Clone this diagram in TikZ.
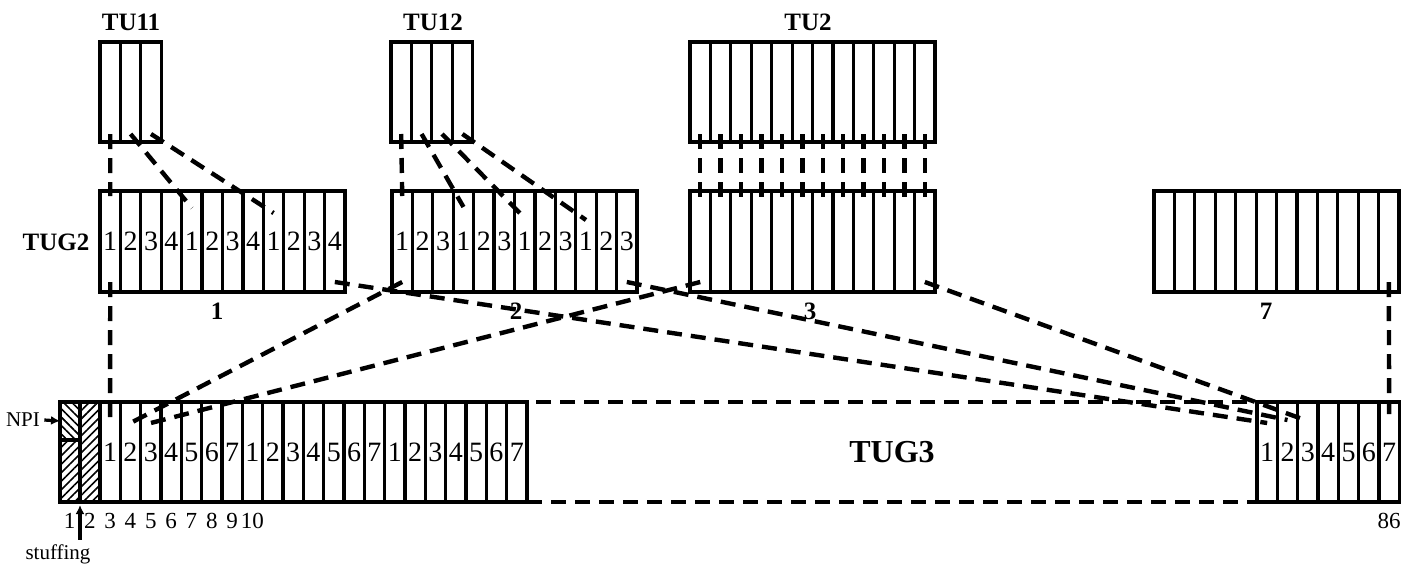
\documentclass[tikz,border=0pt]{standalone}
\usepackage{fontspec}
\setmainfont{Liberation Serif}
\usetikzlibrary{arrows.meta,calc,patterns.meta}

\begin{document}
\begin{tikzpicture}[
  x=0.5pt, y=-0.5pt,
  >={Latex[length=4.5pt,width=4.5pt]},
  cell/.style={draw,line width=1.6pt,inner sep=0pt,outer sep=0pt,minimum width=10.2pt,minimum height=50pt,font=\fontsize{14}{16}\selectfont},
  slot/.style={cell,minimum width=10.165pt},
  hatch/.style={draw,line width=1.6pt,inner sep=0pt,outer sep=0pt,minimum width=10pt},
  title/.style={font=\fontsize{12.5}{14}\selectfont\bfseries,inner sep=1pt},
  small/.style={font=\fontsize{10.5}{12}\selectfont,inner sep=2pt},
  idx/.style={font=\fontsize{11.5}{13}\selectfont,inner sep=1pt},
  link/.style={line width=2.2pt,dash pattern=on 7.5pt off 4.5pt},
  arr/.style={->,line width=1.6pt},
]
\useasboundingbox (0,0) rectangle (1418,568);

% row 1: TU11, TU12, TU2
\foreach \i in {1,2,3} \node[cell] (tuA-\i) at ({100+(\i-0.5)*20.4},92) {};
\foreach \i in {1,...,4} \node[cell] (tuB-\i) at ({391+(\i-0.5)*20.4},92) {};
\foreach \i in {1,...,12} \node[cell] (tuC-\i) at ({690+(\i-0.5)*20.42},92) {};

\node[title] (lTUa) at (131,22) {TU11};
\node[title] (lTUb) at (433,22) {TU12};
\node[title] (lTUc) at (808,22) {TU2};

% row 2: TUG2 groups
\foreach \i in {1,...,12} {
  \pgfmathtruncatemacro\na{mod(\i-1,4)+1}
  \pgfmathtruncatemacro\nb{mod(\i-1,3)+1}
  \node[cell,minimum height=50.5pt] (gA-\i) at ({100+(\i-0.5)*20.42},241.5) {\na};
  \node[cell,minimum height=50.5pt] (gB-\i) at ({392+(\i-0.5)*20.42},241.5) {\nb};
  \node[cell,minimum height=50.5pt] (gC-\i) at ({690+(\i-0.5)*20.42},241.5) {};
  \node[cell,minimum height=50.5pt] (gG-\i) at ({1154+(\i-0.5)*20.42},241.5) {};
}

\node[title] (lTUG) at (56,242) {TUG2};
\node[title] (nA) at (217,311) {1};
\node[title] (nB) at (516,311) {2};
\node[title] (nC) at (810,311) {3};
\node[title] (nG) at (1266,311) {7};

% row 3: TUG3
\node[hatch,minimum height=19pt,pattern={Lines[angle=-45,distance=3pt,line width=0.8pt]}] (h-top) at (70,421) {};
\node[hatch,minimum height=31pt,pattern={Lines[angle=45,distance=3pt,line width=0.8pt]}] (h-bot) at (70,471) {};
\node[hatch,minimum height=50pt,pattern={Lines[angle=45,distance=3pt,line width=0.8pt]}] (h-two) at (90,452) {};

\foreach \i in {1,...,21} {
  \pgfmathtruncatemacro\n{mod(\i-1,7)+1}
  \node[slot] (t-\i) at ({100+(\i-0.5)*20.33},452) {\n};
}
\foreach \i in {1,...,7} \node[slot] (r-\i) at ({1257+(\i-0.5)*20.33},452) {\i};

\node[draw,link,minimum width=365pt,minimum height=50pt,inner sep=0pt,outer sep=0pt,
  font=\fontsize{16}{18}\selectfont\bfseries] (mid) at (892,452) {TUG3};

% column numbers
\foreach \i in {1,...,10} \node[idx] (n-\i) at ({100+(\i-2.5)*20.33},521) {\i};
\node[idx] (n-86) at (r-7 |- n-1) {86};

% NPI and stuffing
\node[small] (npi) at (23,420) {NPI};
\draw[arr] (npi.east) -- (h-top.west);
\node[small] (stuff) at (58,554) {stuffing};
\draw[arr] (stuff.north -| h-two.south west) -- ([yshift=-1.5pt]h-two.south west);

% TU -> TUG2
\foreach \a/\b/\d in {tuA-1/gA-1/5, tuA-2/gA-5/17, tuA-3/gA-9/22,
                      tuB-1/gB-1/5, tuB-2/gB-4/16, tuB-3/gB-7/27, tuB-4/gB-10/29}
  \draw[link] ($(\a.south)+(0,-8)$) -- ($(\b.north)+(0,\d)$);
\foreach \i in {1,...,12}
  \draw[link] ($(tuC-\i.south)+(0,-8)$) -- ($(gC-\i.north)+(0,8)$);

% TUG2 -> TUG3
\foreach \a/\b/\d in {gA-1/t-1/20, gB-1/t-2/21, gC-1/t-3/21,
                      gA-12/r-1/21, gB-12/r-2/18, gC-12/r-3/19, gG-12/r-7/12}
  \draw[link] ($(\a.south)+(0,-10)$) -- ($(\b.north)+(0,\d)$);

\end{tikzpicture}
\end{document}
